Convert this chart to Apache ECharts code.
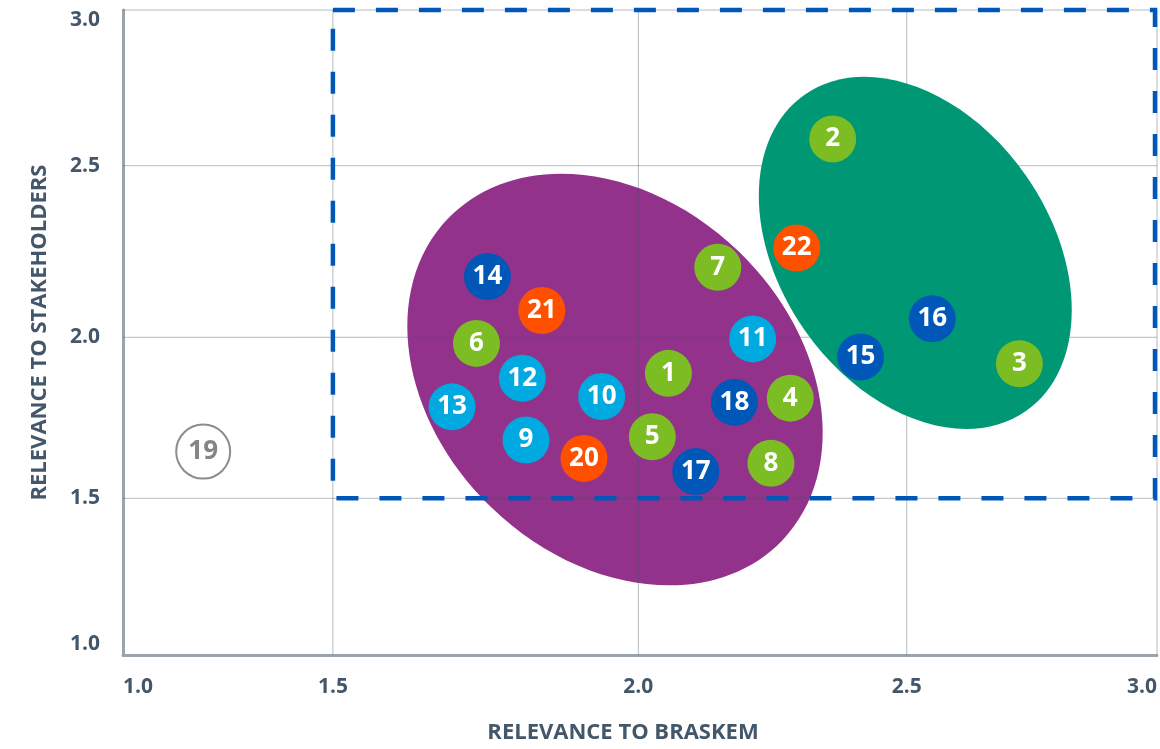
<!DOCTYPE html>
<html lang="en">
<head>
<meta charset="UTF-8">
<title>Materiality matrix</title>
<style>
    html, body { margin: 0; padding: 0; background: #fff; }
    #chart { width: 1160px; height: 749px; }
</style>
</head>
<body>
<div id="chart"></div>
<script src="https://cdn.jsdelivr.net/npm/echarts@6/dist/echarts.min.js"></script>
<script>
var topicIds = [1, 2, 3, 4, 5, 6, 7, 8, 9, 10, 11, 12, 13, 14, 15, 16, 17, 18, 19, 20, 21, 22];
var relBraskem = [2.056, 2.362, 2.725, 2.283, 2.026, 1.735, 2.148, 2.247, 1.816, 1.940, 2.213,
                  1.810, 1.695, 1.753, 2.414, 2.551, 2.107, 2.179, 1.191, 1.911, 1.842, 2.295];
var relStakeholders = [1.888, 2.586, 1.918, 1.811, 1.691, 1.981, 2.204, 1.609, 1.681, 1.816, 1.995,
                       1.873, 1.784, 2.177, 1.939, 2.054, 1.583, 1.798, 1.645, 1.624, 2.078, 2.260];
var topicGroup = ['A', 'A', 'A', 'A', 'A', 'A', 'A', 'A', 'B', 'B', 'B',
                  'B', 'B', 'C', 'C', 'C', 'C', 'C', 'E', 'D', 'D', 'D'];

// cluster blobs (centre in score units)
var clusterX = [1.962, 2.517];
var clusterY = [1.869, 2.246];

// axis ticks
var tickValues = [1.0, 1.5, 2.0, 2.5, 3.0];
var tickLabels = ['1.0', '1.5', '2.0', '2.5', '3.0'];
var focusBox = [1.5, 1.5, 3.0, 3.0]; // x0, y0, x1, y1

// ---- layout: the matrix does not space its ticks evenly ----
var xTickPos = [0, 0.2030, 0.4984, 0.7580, 1];
var yTickPos = [0, 0.2429, 0.4926, 0.7586, 1];

var groupColor = { A: '#7BBD23', B: '#00A9E0', C: '#0057B8', D: '#FF5000', E: '#ffffff' };
var clusterStyle = [
    { color: '#92328B', rx: 232, ry: 178, angle: 44 },
    { color: '#009874', rx: 193, ry: 135, angle: 55 }
];
var textColor = '#44576a';
var font = 'Open Sans';

function toAxis(v, pos) {
    for (var i = 0; i < tickValues.length - 1; i++) {
        if (v <= tickValues[i + 1] || i === tickValues.length - 2) {
            var t = (v - tickValues[i]) / (tickValues[i + 1] - tickValues[i]);
            return pos[i] + t * (pos[i + 1] - pos[i]);
        }
    }
}
function tickLabel(value, pos) {
    var best = 0;
    for (var i = 1; i < pos.length; i++) {
        if (Math.abs(pos[i] - value) < Math.abs(pos[best] - value)) best = i;
    }
    return tickLabels[best];
}

var chart = echarts.init(document.getElementById('chart'));

function clusterSeries(i, z) {
    return {
        type: 'custom',
        z: z,
        silent: true,
        data: [[toAxis(clusterX[i], xTickPos), toAxis(clusterY[i], yTickPos)]],
        renderItem: function (params, api) {
            var c = api.coord([api.value(0), api.value(1)]);
            var s = clusterStyle[i];
            return {
                type: 'ellipse',
                x: c[0],
                y: c[1],
                rotation: -s.angle * Math.PI / 180,
                shape: { cx: 0, cy: 0, rx: s.rx, ry: s.ry },
                style: { fill: s.color }
            };
        }
    };
}

// grid lines (own series so they sit between the two blobs)
var gridData = [];
tickValues.forEach(function (v, i) {
    if (i > 0) {
        gridData.push([0, toAxis(v, xTickPos)]);
        gridData.push([1, toAxis(v, yTickPos)]);
    }
});

var pointData = topicIds.map(function (id, i) {
    var g = topicGroup[i];
    var outline = g === 'E';
    return {
        name: String(id),
        value: [toAxis(relBraskem[i], xTickPos), toAxis(relStakeholders[i], yTickPos)],
        symbolSize: outline ? 54 : 47,
        itemStyle: {
            color: groupColor[g],
            opacity: 1,
            borderColor: outline ? '#8c8c8c' : groupColor[g],
            borderWidth: outline ? 2 : 0
        },
        label: { color: outline ? '#858585' : '#ffffff' }
    };
});

var option = {
    animation: false,
    grid: { left: 123, right: 1, top: 10, bottom: 94 },
    xAxis: {
        type: 'value',
        min: 0,
        max: 1,
        name: 'RELEVANCE TO BRASKEM',
        nameLocation: 'middle',
        nameGap: 67,
        nameTextStyle: { color: textColor, fontSize: 22, fontWeight: 'bold', fontFamily: font, padding: [0, 34, 0, 0] },
        axisLine: { show: true, lineStyle: { color: '#9aa3ab', width: 3 } },
        axisTick: { show: false },
        splitLine: { show: false },
        axisLabel: {
            customValues: xTickPos,
            formatter: function (v) { return tickLabel(v, xTickPos); },
            alignMinLabel: 'left',
            alignMaxLabel: 'right',
            margin: 22,
            color: textColor,
            fontSize: 21,
            fontWeight: 'bold',
            fontFamily: font
        }
    },
    yAxis: {
        type: 'value',
        min: 0,
        max: 1,
        name: 'RELEVANCE TO STAKEHOLDERS',
        nameLocation: 'middle',
        nameRotate: 90,
        nameGap: 72,
        nameTextStyle: { color: textColor, fontSize: 22, fontWeight: 'bold', fontFamily: font },
        axisLine: { show: true, lineStyle: { color: '#9aa3ab', width: 3 } },
        axisTick: { show: false },
        splitLine: { show: false },
        axisLabel: {
            customValues: yTickPos,
            formatter: function (v) { return tickLabel(v, yTickPos); },
            verticalAlignMinLabel: 'bottom',
            verticalAlignMaxLabel: 'top',
            margin: 23,
            color: textColor,
            fontSize: 21,
            fontWeight: 'bold',
            fontFamily: font
        }
    },
    series: [
        clusterSeries(0, 1),
        {
            type: 'custom',
            z: 2,
            silent: true,
            data: gridData,
            renderItem: function (params, api) {
                var dir = api.value(0), v = api.value(1);
                var p0 = dir === 0 ? api.coord([v, 0]) : api.coord([0, v]);
                var p1 = dir === 0 ? api.coord([v, 1]) : api.coord([1, v]);
                return {
                    type: 'line',
                    shape: { x1: p0[0], y1: p0[1], x2: p1[0], y2: p1[1] },
                    style: { stroke: 'rgba(70,85,100,0.4)', lineWidth: 1 }
                };
            }
        },
        clusterSeries(1, 3),
        {
            type: 'custom',
            z: 4,
            silent: true,
            data: [[toAxis(focusBox[0], xTickPos), toAxis(focusBox[1], yTickPos),
                    toAxis(focusBox[2], xTickPos), toAxis(focusBox[3], yTickPos)]],
            renderItem: function (params, api) {
                var a = api.coord([api.value(0), api.value(3)]);
                var b = api.coord([api.value(2), api.value(1)]);
                return {
                    type: 'rect',
                    shape: { x: a[0], y: a[1], width: b[0] - a[0] - 2, height: b[1] - a[1] },
                    style: { fill: 'none', stroke: '#0057B8', lineWidth: 4.5, lineDash: [22, 21] }
                };
            }
        },
        {
            type: 'scatter',
            z: 5,
            symbol: 'circle',
            data: pointData,
            label: {
                show: true,
                position: 'inside',
                formatter: '{b}',
                fontSize: 26,
                fontWeight: 'bold',
                fontFamily: font
            }
        }
    ]
};

chart.setOption(option);
</script>
</body>
</html>
